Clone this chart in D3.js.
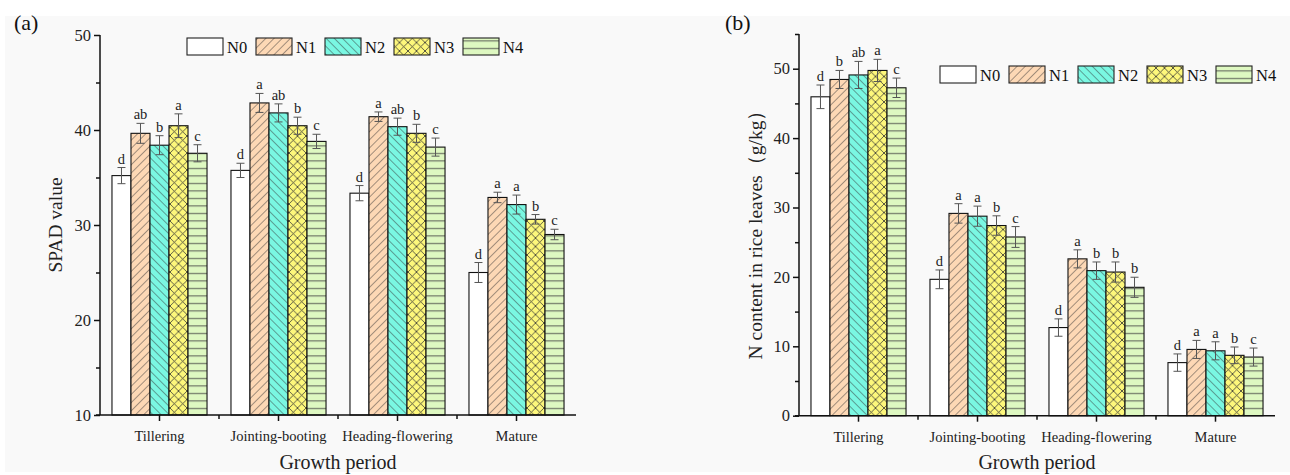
<!DOCTYPE html>
<html><head><meta charset="utf-8">
<script src="https://cdn.jsdelivr.net/npm/d3@7/dist/d3.min.js"></script>
<style>body{margin:0;background:#fff}svg{display:block}</style>
</head><body>
<svg id="c" width="1290" height="475"></svg>
<script>
const categories = ["Tillering","Jointing-booting","Heading-flowering","Mature"];
const series = ["N0","N1","N2","N3","N4"];
// Panel (a) SPAD values [category][series]
const spadValues = [
  [35.2, 39.65, 38.4, 40.45, 37.55],
  [35.75, 42.85, 41.8, 40.45, 38.8],
  [33.35, 41.4, 40.35, 39.65, 38.2],
  [25.0, 32.9, 32.15, 30.6, 29.0]
];
const spadErrors = [
  [0.85, 1.05, 1.0, 1.25, 0.9],
  [0.75, 1.0, 0.95, 0.9, 0.75],
  [0.8, 0.5, 0.9, 0.95, 0.95],
  [1.05, 0.55, 1.0, 0.5, 0.55]
];
const spadLetters = [
  ["d","ab","b","a","c"],
  ["d","a","ab","b","c"],
  ["d","a","ab","b","c"],
  ["d","a","a","b","c"]
];
// Panel (b) N content values
const nValues = [
  [45.95, 48.45, 49.1, 49.75, 47.25],
  [19.65, 29.15, 28.75, 27.4, 25.75],
  [12.7, 22.6, 20.9, 20.7, 18.5],
  [7.65, 9.55, 9.35, 8.7, 8.45]
];
const nErrors = [
  [1.7, 1.3, 1.95, 1.6, 1.4],
  [1.35, 1.4, 1.45, 1.4, 1.5],
  [1.25, 1.3, 1.25, 1.45, 1.45],
  [1.25, 1.3, 1.3, 1.2, 1.3]
];
const nLetters = [
  ["d","b","ab","a","c"],
  ["d","a","a","b","c"],
  ["d","a","b","b","b"],
  ["d","a","a","b","c"]
];
const spadTicks = [10,20,30,40,50];
const spadMinor = [15,25,35,45];
const nTicks = [0,10,20,30,40,50];
const nMinor = [5,15,25,35,45,55];

const fills = ["#ffffff","#fdd8b5","#7af7e2","#fdf77b","#def8c1"];
const FONT = "'Liberation Serif','Times New Roman',serif";

const svg = d3.select("#c");
svg.append("rect").attr("x",5).attr("y",16).attr("width",1285).attr("height",456).attr("fill","#f9f9f9");

const defs = svg.append("defs");
function pat(id, bg, kind){
  const p = defs.append("pattern").attr("id",id).attr("patternUnits","userSpaceOnUse");
  if(kind==="h"){
    p.attr("width",8).attr("height",7.5);
    p.append("rect").attr("width",8).attr("height",7.5).attr("fill",bg);
    p.append("line").attr("x1",0).attr("x2",8).attr("y1",3.5).attr("y2",3.5).attr("stroke","#444").attr("stroke-width",0.9);
  } else if(kind==="x"){
    p.attr("width",8.5).attr("height",8.5);
    p.append("rect").attr("width",8.5).attr("height",8.5).attr("fill",bg);
    p.append("path").attr("d","M0,0L8.5,8.5M8.5,0L0,8.5M-1,7.5L1,9.5M7.5,-1L9.5,1M-1,1L1,-1M7.5,9.5L9.5,7.5").attr("stroke","#333").attr("stroke-width",0.8);
  } else {
    p.attr("width",5.8).attr("height",5.8).attr("patternTransform", kind==="/"?"rotate(45)":"rotate(-45)");
    p.append("rect").attr("width",5.8).attr("height",5.8).attr("fill",bg);
    p.append("line").attr("x1",0).attr("x2",0).attr("y1",0).attr("y2",5.8).attr("stroke","#333").attr("stroke-width",0.9);
  }
}
pat("p1",fills[1],"/");
pat("p2",fills[2],"\\");
pat("p3",fills[3],"x");
pat("p4",fills[4],"h");
const fillOf = i => i===0 ? fills[0] : `url(#p${i})`;

function panel(cfg){
  const g = svg.append("g");
  const x = d3.scaleBand().domain(categories).range([cfg.x0,cfg.x1]).paddingInner(0).paddingOuter(0);
  const xi = d3.scaleBand().domain(series).range([0,x.bandwidth()]).paddingInner(0).paddingOuter(0.63);
  const y = d3.scaleLinear().domain(cfg.domain).range([cfg.yBot,cfg.yTop]);

  categories.forEach((c,ci)=>{
    series.forEach((s,si)=>{
      const v = cfg.values[ci][si], e = cfg.errors[ci][si];
      const bx = x(c)+xi(s), bw = xi.bandwidth();
      g.append("rect").attr("x",bx).attr("y",y(v)).attr("width",bw).attr("height",y(cfg.domain[0])-y(v))
        .attr("fill",fillOf(si)).attr("stroke","#111").attr("stroke-width",1.1);
      const cx = bx+bw/2;
      const eg = g.append("g").attr("stroke","#555").attr("stroke-width",1);
      eg.append("line").attr("x1",cx).attr("x2",cx).attr("y1",y(v+e)).attr("y2",y(v-e));
      eg.append("line").attr("x1",cx-4).attr("x2",cx+4).attr("y1",y(v+e)).attr("y2",y(v+e));
      eg.append("line").attr("x1",cx-4).attr("x2",cx+4).attr("y1",y(v-e)).attr("y2",y(v-e));
      g.append("text").attr("x",cx).attr("y",y(v+e)-4).attr("text-anchor","middle")
        .attr("font-family",FONT).attr("font-size",14.5).attr("fill","#222").text(cfg.letters[ci][si]);
    });
  });

  const ya = g.append("g").attr("transform",`translate(${cfg.x0},0)`)
    .call(d3.axisLeft(y).tickValues(cfg.ticks).tickSize(6).tickPadding(3).tickFormat(d3.format("d")));
  ya.select(".domain").attr("stroke","#111").attr("stroke-width",1.5).attr("d",`M0,${cfg.yTop}V${cfg.yBot}`);
  ya.selectAll(".tick line").attr("stroke","#111").attr("stroke-width",1.5);
  ya.selectAll(".tick text").attr("font-family",FONT).attr("font-size",16.5).attr("fill","#222");
  const ym = g.append("g").attr("transform",`translate(${cfg.x0},0)`)
    .call(d3.axisLeft(y).tickValues(cfg.minor).tickSize(4).tickFormat(""));
  ym.select(".domain").remove();
  ym.selectAll(".tick line").attr("stroke","#111").attr("stroke-width",1.5);

  const xa = g.append("g").attr("transform",`translate(0,${cfg.yBot})`)
    .call(d3.axisBottom(x).tickSize(6).tickPadding(10));
  xa.select(".domain").attr("stroke","#111").attr("stroke-width",1.5).attr("d",`M${cfg.x0-4},0H${cfg.x1}`);
  xa.selectAll(".tick line").attr("stroke","#111").attr("stroke-width",1.5);
  xa.selectAll(".tick text").attr("font-family",FONT).attr("font-size",14.5).attr("fill","#222");
  const xb = d3.scaleOrdinal().domain(categories.slice(1)).range(categories.slice(1).map(c=>x(c)));
  g.append("g").selectAll("line").data(categories.slice(1)).join("line")
    .attr("x1",d=>xb(d)).attr("x2",d=>xb(d)).attr("y1",cfg.yBot).attr("y2",cfg.yBot+4)
    .attr("stroke","#111").attr("stroke-width",1.5);

  g.append("text").attr("x",(cfg.x0+cfg.x1)/2).attr("y",469).attr("text-anchor","middle")
    .attr("font-family",FONT).attr("font-size",20).attr("fill","#222").text("Growth period");
  g.append("text").attr("transform",`translate(${cfg.ylx},${cfg.yly}) rotate(-90)`).attr("text-anchor","middle")
    .attr("dominant-baseline","central").attr("font-family",FONT).attr("font-size",19.5).attr("fill","#222").text(cfg.ylabel);
  g.append("text").attr("x",cfg.tx).attr("y",30).attr("font-family",FONT).attr("font-size",22).attr("fill","#111").text(cfg.title);

  const lg = g.append("g");
  series.forEach((s,si)=>{
    const lx = cfg.lx + si*69;
    lg.append("rect").attr("x",lx).attr("y",cfg.ly).attr("width",36).attr("height",17)
      .attr("fill",fillOf(si)).attr("stroke","#222").attr("stroke-width",1.1);
    lg.append("text").attr("x",lx+40).attr("y",cfg.ly+15).attr("font-family",FONT).attr("font-size",16.5).attr("fill","#111").text(s);
  });
}

panel({x0:100,x1:576,yTop:35,yBot:415,domain:[10,50],ticks:spadTicks,minor:spadMinor,
  values:spadValues,errors:spadErrors,letters:spadLetters,ylabel:"SPAD value",ylx:55,yly:225,
  title:"(a)",tx:14,lx:187,ly:38});
panel({x0:799,x1:1275,yTop:34,yBot:415.7,domain:[0,55],ticks:nTicks,minor:nMinor,
  values:nValues,errors:nErrors,letters:nLetters,ylabel:"N content in rice leaves（g/kg）",ylx:755,yly:230,
  title:"(b)",tx:725,lx:940,ly:66});
</script>
</body></html>
